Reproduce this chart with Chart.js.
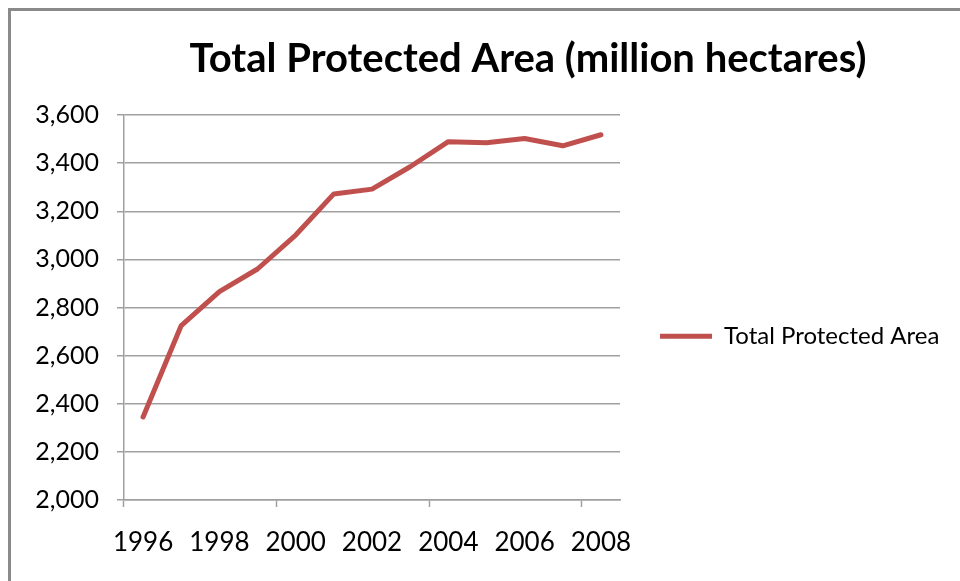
<!DOCTYPE html>
<html>
<head>
<meta charset="utf-8">
<script src="https://cdn.jsdelivr.net/npm/chart.js@4.4.1/dist/chart.umd.min.js"></script>
<style>
  html, body { margin: 0; padding: 0; background: #ffffff; overflow: hidden; width: 960px; height: 581px; }
  #frame { position: absolute; left: 8px; top: 8px; width: 1040px; height: 580px;
           border-left: 3px solid #8a8a8a; border-top: 3px solid #8a8a8a; }
  #c { position: absolute; left: 0; top: 0; }
</style>
</head>
<body>
<div id="frame"><canvas id="c" width="1034" height="570"></canvas></div>
<script>
// ---- data ----
const years = ['1996','1997','1998','1999','2000','2001','2002','2003','2004','2005','2006','2007','2008'];
const tickLabels = ['1996','','1998','','2000','','2002','','2004','','2006','','2008'];
const protectedArea = [2345, 2725, 2866, 2960, 3101, 3272, 3292, 3385, 3489, 3485, 3502, 3472, 3518];
const seriesName = 'Total Protected Area';
const chartTitle = 'Total Protected Area (million hectares)';
const yMin = 2000, yMax = 3600, yStep = 200;

const FONT = 'Lato, "Open Sans", sans-serif';
const GRID = '#a0a0a0';
const RED = '#c0504d';

new Chart(document.getElementById('c'), {
  type: 'line',
  data: {
    labels: years,
    datasets: [{
      label: seriesName,
      data: protectedArea,
      xAxisID: 'x',
      yAxisID: 'y',
      borderColor: RED,
      backgroundColor: RED,
      borderWidth: 5,
      borderCapStyle: 'round',
      borderJoinStyle: 'round',
      pointRadius: 0,
      pointHoverRadius: 0,
      tension: 0,
      fill: false
    }]
  },
  options: {
    responsive: false,
    animation: false,
    devicePixelRatio: 1,
    layout: { padding: 0 },
    plugins: {
      tooltip: { enabled: false },
      title: {
        display: true,
        text: chartTitle,
        color: '#000000',
        font: { family: FONT, size: 40, weight: 'bold', lineHeight: 1.2 },
        padding: { top: 24, bottom: 32 }
      },
      legend: {
        position: 'right',
        align: 'center',
        maxWidth: 600,
        title: { display: true, text: ' ', font: { size: 12, lineHeight: 1.2 }, padding: { top: 0, bottom: 66 } },
        labels: {
          usePointStyle: true,
          pointStyle: 'line',
          pointStyleWidth: 52,
          padding: 40,
          color: '#000000',
          font: { family: FONT, size: 24 }
        }
      }
    },
    scales: {
      x: {
        type: 'category',
        offset: true,
        grid: {
          offset: true,
          drawOnChartArea: false,
          tickLength: 7,
          tickWidth: 1.5,
          tickColor: (ctx) => (ctx.index % 4 === 0 ? GRID : 'rgba(0,0,0,0)')
        },
        border: { color: GRID, width: 1.5 },
        ticks: {
          autoSkip: false,
          maxRotation: 0,
          minRotation: 0,
          padding: 20,
          color: '#000000',
          font: { family: FONT, size: 26 },
          callback: (v, i) => tickLabels[i]
        },
        afterFit: (s) => { s.height = 81; }
      },
      y: {
        min: yMin,
        max: yMax,
        ticks: {
          stepSize: yStep,
          padding: 18,
          color: '#000000',
          font: { family: FONT, size: 25 },
          callback: (v) => Number(v).toLocaleString('en-US')
        },
        grid: { color: GRID, lineWidth: 1.5, tickLength: 7 },
        border: { color: GRID, width: 1.5 },
        afterFit: (s) => { s.width = 113; }
      },
      pad: {
        position: 'right',
        weight: 2000,
        display: true,
        grid: { display: false },
        border: { display: false },
        ticks: { display: false },
        afterFit: (s) => {
          const lw = s.chart.legend ? s.chart.legend.width : 0;
          s.width = Math.max(0, s.chart.width - 609 - lw);
        }
      }
    }
  }
});
</script>
</body>
</html>
